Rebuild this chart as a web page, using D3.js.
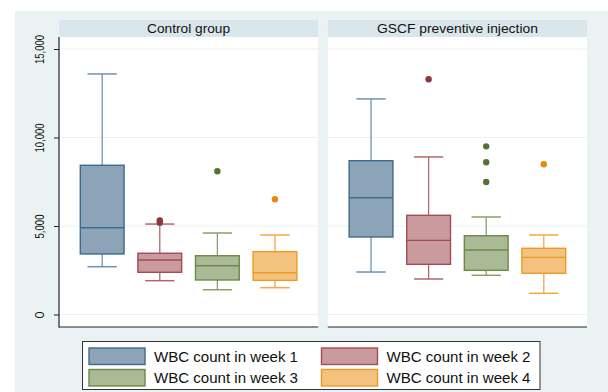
<!DOCTYPE html>
<html>
<head>
<meta charset="utf-8">
<script src="https://cdn.jsdelivr.net/npm/d3@7"></script>
<style>
  html, body { margin: 0; padding: 0; background: #ffffff; }
  svg { display: block; font-family: "Liberation Sans", Arial, Helvetica, sans-serif; }
</style>
</head>
<body>
<svg id="chart" width="608" height="392"></svg>
<script>
// ---- data ----
const panels = ["Control group", "GSCF preventive injection"];
const seriesNames = ["WBC count in week 1", "WBC count in week 2", "WBC count in week 3", "WBC count in week 4"];
const yTicks = [0, 5000, 10000, 15000];

const controlLow    = [2700, 1910, 1400, 1515];
const controlQ1     = [3420, 2385, 1950, 1930];
const controlMedian = [4905, 3080, 2755, 2360];
const controlQ3     = [8430, 3460, 3320, 3550];
const controlHigh   = [13590, 5110, 4605, 4490];
const controlOutliers = [[], [5320, 5190], [8090], [6510]];

const gscfLow    = [2400, 2005, 2215, 1200];
const gscfQ1     = [4380, 2835, 2495, 2330];
const gscfMedian = [6600, 4190, 3645, 3230];
const gscfQ3     = [8690, 5605, 4450, 3740];
const gscfHigh   = [12180, 8900, 5510, 4490];
const gscfOutliers = [[], [13290], [9500, 8600, 7490], [8490]];

// ---- styles ----
const fillColors   = ["#8DA4B8", "#C99A9E", "#ABBA96", "#F3C27F"];
const strokeColors = ["#3D6A8F", "#A44B53", "#6B8A44", "#EE9A22"];
const whiskColors  = ["#6F92B0", "#B4676E", "#8AA068", "#F0AA45"];
const dotColors    = ["#90353B", "#90353B", "#55752F", "#E8890C"].map((c, i) => i === 0 ? "#1A476F" : c);

const panelData = [
  { low: controlLow, q1: controlQ1, med: controlMedian, q3: controlQ3, high: controlHigh, out: controlOutliers },
  { low: gscfLow, q1: gscfQ1, med: gscfMedian, q3: gscfQ3, high: gscfHigh, out: gscfOutliers }
];

const svg = d3.select("#chart");

// outer graph region
svg.append("rect").attr("x", 15).attr("y", 11).attr("width", 593).attr("height", 381).attr("fill", "#EAF2F3");

const y = d3.scaleLinear().domain([0, 15000]).range([314.5, 49]);
const plotTop = 37, plotBottom = 327, headerTop = 20;
const panelX = d3.scaleBand().domain(panels).range([59, 587]).paddingInner(0.036);

const boxX = d3.scaleBand().domain(seriesNames).paddingInner(0.24).paddingOuter(0.37);

panels.forEach((p, pi) => {
  const x0 = panelX(p), w = panelX.bandwidth();
  const g = svg.append("g");
  // header strip
  g.append("rect").attr("x", x0).attr("y", headerTop).attr("width", w).attr("height", plotTop - headerTop).attr("fill", "#D9E6EB");
  g.append("text").attr("x", x0 + w / 2).attr("y", 33).attr("text-anchor", "middle")
    .attr("font-size", 13.5).attr("fill", "#111")
    .attr("textLength", pi === 0 ? 83 : 161).attr("lengthAdjust", "spacingAndGlyphs")
    .text(p);
  // plot area
  g.append("rect").attr("x", x0).attr("y", plotTop).attr("width", w).attr("height", plotBottom - plotTop).attr("fill", "#ffffff");
  // gridlines
  g.selectAll("line.grid").data(yTicks).join("line")
    .attr("x1", x0).attr("x2", x0 + w)
    .attr("y1", d => y(d)).attr("y2", d => y(d))
    .attr("stroke", "#EAF2F3").attr("stroke-width", 1.2);
  // bottom axis line
  g.append("line").attr("x1", x0).attr("x2", x0 + w).attr("y1", plotBottom).attr("y2", plotBottom)
    .attr("stroke", "#222").attr("stroke-width", 1.2);

  const bx = boxX.copy().range([x0, x0 + w]);
  const bw = bx.bandwidth();
  const capW = bw * 0.67;
  const d = panelData[pi];
  seriesNames.forEach((s, i) => {
    const cx = bx(s) + bw / 2;
    const gg = g.append("g");
    // whiskers
    gg.append("line").attr("x1", cx).attr("x2", cx).attr("y1", y(d.high[i])).attr("y2", y(d.q3[i]))
      .attr("stroke", whiskColors[i]).attr("stroke-width", 1.3);
    gg.append("line").attr("x1", cx).attr("x2", cx).attr("y1", y(d.q1[i])).attr("y2", y(d.low[i]))
      .attr("stroke", whiskColors[i]).attr("stroke-width", 1.3);
    gg.append("line").attr("x1", cx - capW / 2).attr("x2", cx + capW / 2).attr("y1", y(d.high[i])).attr("y2", y(d.high[i]))
      .attr("stroke", whiskColors[i]).attr("stroke-width", 1.5);
    gg.append("line").attr("x1", cx - capW / 2).attr("x2", cx + capW / 2).attr("y1", y(d.low[i])).attr("y2", y(d.low[i]))
      .attr("stroke", whiskColors[i]).attr("stroke-width", 1.5);
    // box
    gg.append("rect").attr("x", bx(s)).attr("y", y(d.q3[i])).attr("width", bw).attr("height", y(d.q1[i]) - y(d.q3[i]))
      .attr("fill", fillColors[i]).attr("stroke", strokeColors[i]).attr("stroke-width", 1.4);
    gg.append("line").attr("x1", bx(s)).attr("x2", bx(s) + bw).attr("y1", y(d.med[i])).attr("y2", y(d.med[i]))
      .attr("stroke", strokeColors[i]).attr("stroke-width", 1.4);
    // outliers
    gg.selectAll("circle").data(d.out[i]).join("circle")
      .attr("cx", cx).attr("cy", v => y(v)).attr("r", 3.2).attr("fill", dotColors[i]);
  });
});

// y axis on the first panel
const yAxis = d3.axisLeft(y).tickValues(yTicks).tickSize(5).tickFormat(d3.format(","));
const ax = svg.append("g").attr("transform", `translate(${panelX(panels[0])},0)`).call(yAxis);
ax.select(".domain").remove();
ax.append("line").attr("x1", 0).attr("x2", 0).attr("y1", plotTop).attr("y2", plotBottom + 0.6).attr("stroke", "#222").attr("stroke-width", 1.2);
ax.selectAll(".tick line").attr("stroke", "#222");
ax.selectAll(".tick text")
  .attr("transform", "rotate(-90)")
  .attr("x", 0).attr("y", -15).attr("dy", 0)
  .attr("text-anchor", "middle")
  .attr("font-size", 12.5).attr("fill", "#111")
  .attr("font-family", "Liberation Sans, Arial, sans-serif")
  .each(function(d) {
    const len = { 0: 7, 5000: 24, 10000: 29, 15000: 29 }[d];
    d3.select(this).attr("textLength", len).attr("lengthAdjust", "spacingAndGlyphs");
  });

// legend
const lg = svg.append("g");
lg.append("rect").attr("x", 82.5).attr("y", 341.5).attr("width", 457.5).attr("height", 48)
  .attr("fill", "#ffffff").attr("stroke", "#333").attr("stroke-width", 1);
const legX = [89, 321.5], legY = [348, 369.5];
seriesNames.forEach((s, i) => {
  const col = i % 2, row = Math.floor(i / 2);
  lg.append("rect").attr("x", legX[col]).attr("y", legY[row]).attr("width", 56).attr("height", 16.5)
    .attr("fill", fillColors[i]).attr("stroke", strokeColors[i]).attr("stroke-width", 1.4);
  lg.append("text").attr("x", legX[col] + 65).attr("y", legY[row] + 13.5)
    .attr("font-size", 14.5).attr("fill", "#111")
    .attr("textLength", 144).attr("lengthAdjust", "spacingAndGlyphs")
    .text(s);
});
</script>
</body>
</html>
